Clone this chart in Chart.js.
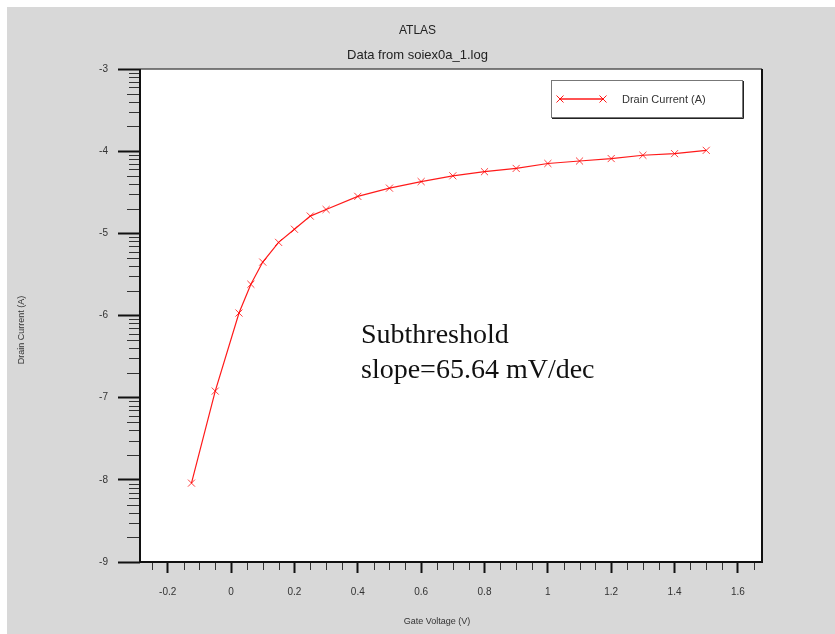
<!DOCTYPE html>
<html><head><meta charset="utf-8">
<script src="https://cdn.jsdelivr.net/npm/chart.js@4"></script>
<style>
html,body{margin:0;padding:0;background:#fff;overflow:hidden;}
#wrap{position:absolute;left:0;top:0;width:835px;height:634px;}
</style></head><body>
<div id="wrap"><canvas id="c" width="835" height="634"></canvas></div>
<script>
// ---- data ----
const gateVoltage = [-0.125, -0.05, 0.025, 0.0625, 0.1, 0.15, 0.2, 0.25, 0.3, 0.4, 0.5, 0.6, 0.7, 0.8, 0.9, 1.0, 1.1, 1.2, 1.3, 1.4, 1.5];
const logDrainCurrent = [-8.04, -6.92, -5.97, -5.62, -5.35, -5.11, -4.95, -4.79, -4.71, -4.55, -4.45, -4.37, -4.30, -4.25, -4.21, -4.15, -4.12, -4.09, -4.05, -4.03, -3.99];
const xTickLabels = ['-0.2', '0', '0.2', '0.4', '0.6', '0.8', '1', '1.2', '1.4', '1.6'];
const yTickLabels = ['-9', '-8', '-7', '-6', '-5', '-4', '-3'];
const chartTitle = 'ATLAS';
const chartSubtitle = 'Data from soiex0a_1.log';
const seriesLabel = 'Drain Current (A)';
const xAxisTitle = 'Gate Voltage (V)';
const yAxisTitle = 'Drain Current (A)';
const noteLines = ['Subthreshold', 'slope=65.64 mV/dec'];

const SANS = '"Liberation Sans", Arial, sans-serif';
const SERIF = '"Liberation Serif", "Times New Roman", serif';
const RED = 'rgba(255,0,0,0.9)';

function drawX(ctx, cx, cy, r) {
  ctx.beginPath();
  ctx.moveTo(cx - r, cy - r); ctx.lineTo(cx + r, cy + r);
  ctx.moveTo(cx - r, cy + r); ctx.lineTo(cx + r, cy - r);
  ctx.stroke();
}

const decorPlugin = {
  id: 'decor',
  beforeDraw(chart) {
    const {ctx, chartArea: a} = chart;
    ctx.save();
    ctx.fillStyle = '#ffffff';
    ctx.fillRect(0, 0, chart.width, chart.height);
    ctx.fillStyle = '#d8d8d8';
    ctx.fillRect(7, 7, chart.width - 7, chart.height - 7);
    ctx.fillStyle = '#ffffff';
    ctx.fillRect(a.left, a.top, a.right - a.left, a.bottom - a.top);
    ctx.restore();
  },
  afterDraw(chart) {
    const {ctx, chartArea: a, scales} = chart;
    const xs = scales.x, ys = scales.y;
    ctx.save();
    // minor x ticks
    ctx.strokeStyle = '#333';
    ctx.lineWidth = 1;
    for (let i = -6; i <= 34; i++) {
      if (i % 4 === 0) continue;
      const v = i * 0.05;
      if (v < xs.min || v > xs.max) continue;
      const px = Math.round(xs.getPixelForValue(v)) + 0.5;
      ctx.beginPath(); ctx.moveTo(px, a.bottom); ctx.lineTo(px, a.bottom + 8); ctx.stroke();
    }
    // minor y ticks (log decades)
    for (let d = -9; d < -3; d++) {
      for (let k = 2; k <= 9; k++) {
        const v = d + Math.log10(k);
        const py = Math.round(ys.getPixelForValue(v)) + 0.5;
        const len = (k === 2 || k === 5) ? 13 : 11;
        ctx.beginPath(); ctx.moveTo(a.left - len, py); ctx.lineTo(a.left, py); ctx.stroke();
      }
    }
    // plot border
    ctx.strokeStyle = '#555';
    ctx.lineWidth = 1.5;
    ctx.beginPath(); ctx.moveTo(a.left, a.top); ctx.lineTo(a.right, a.top); ctx.stroke();
    ctx.strokeStyle = '#111';
    ctx.lineWidth = 2;
    ctx.beginPath();
    ctx.moveTo(a.left, a.top); ctx.lineTo(a.left, a.bottom); ctx.lineTo(a.right, a.bottom); ctx.lineTo(a.right, a.top);
    ctx.stroke();

    // legend box
    const lx = 551, ly = 80, lw = 191, lh = 37;
    ctx.fillStyle = '#ffffff';
    ctx.fillRect(lx, ly, lw, lh);
    ctx.strokeStyle = '#777';
    ctx.lineWidth = 1;
    ctx.strokeRect(lx + 0.5, ly + 0.5, lw, lh);
    ctx.strokeStyle = '#222';
    ctx.beginPath(); ctx.moveTo(lx + lw + 1.5, ly + 1); ctx.lineTo(lx + lw + 1.5, ly + lh + 1.5); ctx.lineTo(lx + 1, ly + lh + 1.5); ctx.stroke();
    ctx.strokeStyle = RED;
    ctx.lineWidth = 1.5;
    ctx.beginPath(); ctx.moveTo(560, 99); ctx.lineTo(603, 99); ctx.stroke();
    ctx.lineWidth = 1;
    drawX(ctx, 560, 99, 3.5);
    drawX(ctx, 603, 99, 3.5);
    ctx.fillStyle = '#333';
    ctx.font = '11px ' + SANS;
    ctx.textAlign = 'left';
    ctx.textBaseline = 'middle';
    ctx.fillText(chart.data.datasets[0].label, 622, 100);

    // annotation
    ctx.fillStyle = '#111';
    ctx.font = '28px ' + SERIF;
    ctx.textBaseline = 'alphabetic';
    ctx.fillText(noteLines[0], 361, 343);
    ctx.fillText(noteLines[1], 361, 378);

    // axis titles
    ctx.fillStyle = '#333';
    ctx.font = '9px ' + SANS;
    ctx.textAlign = 'center';
    ctx.textBaseline = 'middle';
    ctx.fillText(xAxisTitle, 437, 622);
    ctx.translate(22, 330);
    ctx.rotate(-Math.PI / 2);
    ctx.fillText(yAxisTitle, 0, 0);
    ctx.restore();
  }
};

const points = gateVoltage.map((v, i) => ({x: v, y: logDrainCurrent[i]}));

new Chart(document.getElementById('c'), {
  type: 'scatter',
  data: {
    datasets: [{
      label: seriesLabel,
      data: points,
      showLine: true,
      borderColor: RED,
      backgroundColor: RED,
      borderWidth: 1.2,
      pointStyle: 'crossRot',
      pointRadius: 5,
      pointBorderWidth: 1,
      pointBorderColor: 'rgba(255,0,0,0.75)',
      tension: 0
    }]
  },
  options: {
    responsive: false,
    animation: false,
    devicePixelRatio: 1,
    layout: {padding: {top: 0, left: 0, right: 0, bottom: 0}},
    plugins: {
      legend: {display: false},
      tooltip: {enabled: false},
      title: {
        display: true, text: chartTitle, color: '#222',
        font: {family: SANS, size: 12, weight: 'normal'},
        padding: {top: 23, bottom: 0}
      },
      subtitle: {
        display: true, text: chartSubtitle, color: '#222',
        font: {family: SANS, size: 13, weight: 'normal'},
        padding: {top: 10.5, bottom: 5.5}
      }
    },
    scales: {
      x: {
        type: 'linear', position: 'bottom',
        min: -0.2875, max: 1.676,
        afterFit(s) { s.height = 72; },
        afterBuildTicks(s) { s.ticks = xTickLabels.map(l => ({value: parseFloat(l)})); },
        border: {display: false},
        grid: {drawOnChartArea: false, drawTicks: true, tickLength: 11, tickColor: '#111', tickWidth: 2},
        ticks: {
          color: '#333', padding: 13, maxRotation: 0, autoSkip: false,
          font: {family: SANS, size: 10},
          callback: (v) => { const l = xTickLabels.find(t => Math.abs(parseFloat(t) - v) < 1e-6); return l === undefined ? '' : l; }
        }
      },
      y: {
        type: 'linear', position: 'left',
        min: -9, max: -3,
        afterFit(s) { s.width = 140; },
        afterBuildTicks(s) { s.ticks = yTickLabels.map(l => ({value: parseFloat(l)})); },
        border: {display: false},
        grid: {drawOnChartArea: false, drawTicks: true, tickLength: 22, tickColor: '#111', tickWidth: 2},
        ticks: {
          color: '#333', padding: 10, autoSkip: false,
          font: {family: SANS, size: 10},
          callback: (v) => { const l = yTickLabels.find(t => Math.abs(parseFloat(t) - v) < 1e-6); return l === undefined ? '' : l; }
        }
      },
      yRight: {
        type: 'linear', position: 'right',
        min: -9, max: -3,
        afterFit(s) { s.width = 73; },
        border: {display: false},
        grid: {display: false},
        ticks: {display: false}
      }
    }
  },
  plugins: [decorPlugin]
});
</script>
</body></html>
